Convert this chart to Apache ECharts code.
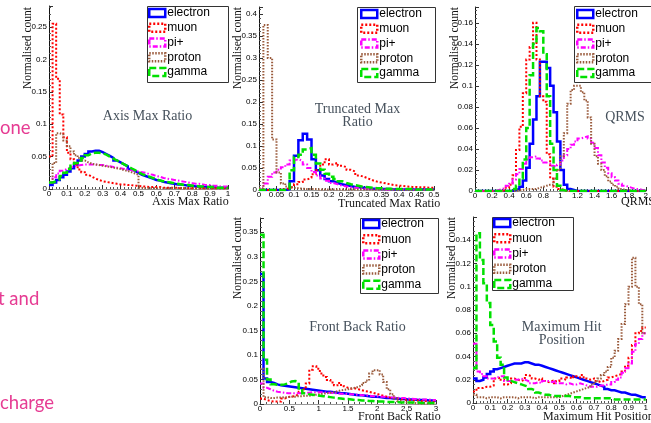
<!DOCTYPE html>
<html>
<head>
<meta charset="utf-8">
<script src="https://cdn.jsdelivr.net/npm/echarts@6/dist/echarts.min.js"></script>
<style>
  html, body { margin: 0; padding: 0; background: #ffffff; }
  #chart { width: 651px; height: 423px; }
</style>
</head>
<body>
<div id="chart"></div>
<script>
// Particle species shown in every panel
const PARTICLES = ['electron', 'muon', 'pi+', 'proton', 'gamma'];

// ---- Axis Max Ratio: 50 bins over [0, 1] ----
const amrElectron = [0.006,0.010,0.014,0.018,0.022,0.027,0.032,0.038,0.044,0.050,
  0.054,0.058,0.059,0.059,0.057,0.054,0.051,0.048,0.044,0.041,
  0.038,0.035,0.031,0.028,0.025,0.022,0.020,0.018,0.016,0.014,
  0.013,0.011,0.010,0.009,0.008,0.007,0.007,0.006,0.005,0.005,
  0.004,0.004,0.003,0.003,0.003,0.003,0.002,0.002,0.002,0.002];
const amrMuon = [0.050,0.255,0.170,0.115,0.080,0.056,0.046,0.038,0.030,0.026,
  0.022,0.019,0.016,0.014,0.012,0.011,0.010,0.009,0.008,0.007,
  0.007,0.006,0.006,0.005,0.005,0.004,0.004,0.003,0.003,0.003,
  0.003,0.002,0.002,0.002,0.002,0.002,0.001,0.001,0.001,0.001,
  0.001,0.001,0.001,0.001,0.001,0.001,0.001,0.001,0.001,0.001];
const amrPion = [0.010,0.018,0.024,0.028,0.031,0.033,0.035,0.036,0.037,0.038,
  0.038,0.038,0.038,0.037,0.037,0.036,0.035,0.034,0.033,0.032,
  0.031,0.030,0.029,0.028,0.027,0.026,0.025,0.023,0.022,0.020,
  0.019,0.017,0.016,0.015,0.014,0.013,0.012,0.011,0.010,0.009,
  0.008,0.008,0.007,0.006,0.006,0.005,0.005,0.004,0.004,0.004];
const amrProton = [0.010,0.040,0.086,0.084,0.075,0.066,0.058,0.052,0.048,0.044,
  0.041,0.039,0.038,0.037,0.036,0.035,0.034,0.033,0.032,0.031,
  0.029,0.028,0.026,0.024,0.022,0.002,0.001,0.001,0.001,0.001,
  0.001,0.001,0.001,0.001,0.001,0.001,0.001,0.001,0.001,0.001,
  0.001,0.001,0.001,0.001,0.001,0.001,0.001,0.001,0.001,0.001];
const amrGamma = [0.010,0.012,0.015,0.020,0.025,0.031,0.036,0.040,0.044,0.048,
  0.052,0.055,0.056,0.056,0.055,0.053,0.050,0.047,0.044,0.041,
  0.038,0.035,0.032,0.029,0.026,0.023,0.021,0.019,0.017,0.015,
  0.013,0.012,0.011,0.010,0.009,0.008,0.007,0.006,0.006,0.005,
  0.005,0.004,0.004,0.003,0.003,0.003,0.002,0.002,0.002,0.002];

// ---- Truncated Max Ratio: 40 bins over [0, 0.5] ----
const tmrElectron = [0,0,0,0,0,0,0.002,0.020,0.078,0.113,
  0.128,0.115,0.070,0.045,0.033,0.025,0.020,0.016,0.013,0.011,
  0.009,0.007,0.006,0.005,0.004,0.003,0.003,0.002,0.002,0.002,
  0.001,0.001,0.001,0.001,0.001,0.001,0.001,0.001,0.001,0.001];
const tmrMuon = [0,0,0,0,0.001,0.002,0.004,0.008,0.013,0.018,
  0.024,0.028,0.036,0.045,0.058,0.070,0.058,0.062,0.055,0.052,
  0.046,0.042,0.033,0.030,0.026,0.022,0.019,0.017,0.015,0.013,
  0.011,0.010,0.009,0.008,0.007,0.007,0.006,0.006,0.005,0.005];
const tmrPion = [0.001,0.015,0.030,0.040,0.046,0.052,0.058,0.067,0.070,0.066,
  0.058,0.050,0.041,0.033,0.026,0.021,0.016,0.013,0.010,0.008,
  0.006,0.005,0.004,0.003,0.003,0.002,0.002,0.002,0.001,0.001,
  0.001,0.001,0.001,0.001,0.001,0.001,0.001,0.001,0.001,0.001];
const tmrProton = [0.004,0.375,0.300,0.115,0.040,0.015,0.008,0.005,0.004,0.003,
  0.002,0.002,0.002,0.001,0.001,0.001,0.001,0.001,0.001,0.001,
  0.001,0.001,0.001,0.001,0.001,0.001,0.001,0.001,0.001,0.001,
  0,0,0,0,0,0,0,0,0,0];
const tmrGamma = [0,0,0,0,0,0,0.003,0.045,0.075,0.080,
  0.092,0.095,0.080,0.060,0.046,0.037,0.030,0.025,0.020,0.016,
  0.013,0.011,0.009,0.007,0.006,0.005,0.004,0.004,0.003,0.003,
  0.002,0.002,0.002,0.002,0.002,0.001,0.001,0.001,0.001,0.001];

// ---- QRMS: 50 bins over [0, 2] ----
const qrmsElectron = [0,0,0,0,0,0,0,0,0,0,
  0,0.001,0.002,0.004,0.010,0.022,0.045,0.068,0.090,0.123,
  0.123,0.117,0.100,0.075,0.047,0.020,0.006,0.002,0.001,0,
  0,0,0,0,0,0,0,0,0,0,
  0,0,0,0,0,0,0,0,0,0];
const qrmsMuon = [0,0,0,0,0,0,0,0,0.001,0.003,
  0.006,0.015,0.039,0.061,0.093,0.125,0.137,0.160,0.125,0.090,
  0.085,0.035,0.012,0.004,0.002,0.001,0,0,0,0,
  0,0,0,0,0,0,0,0,0,0,
  0,0,0,0,0,0,0,0,0,0];
const qrmsPion = [0,0,0,0,0,0,0.001,0.002,0.003,0.005,
  0.007,0.011,0.016,0.021,0.026,0.030,0.032,0.033,0.031,0.029,
  0.027,0.026,0.024,0.023,0.025,0.029,0.034,0.040,0.044,0.047,
  0.050,0.051,0.052,0.050,0.046,0.041,0.034,0.027,0.022,0.017,
  0.013,0.010,0.007,0.005,0.004,0.003,0.002,0.002,0.001,0.001];
const qrmsProton = [0,0,0,0,0,0,0,0,0,0,
  0,0,0.001,0.001,0.002,0.002,0.002,0.002,0.003,0.004,
  0.005,0.006,0.006,0.012,0.020,0.033,0.055,0.083,0.096,0.100,
  0.100,0.094,0.086,0.070,0.045,0.033,0.026,0.020,0.014,0.009,
  0.006,0.004,0.002,0.001,0.001,0,0,0,0,0];
const qrmsGamma = [0,0,0,0,0,0,0,0,0,0,
  0,0.002,0.005,0.012,0.030,0.060,0.110,0.140,0.155,0.152,
  0.130,0.090,0.045,0.020,0.005,0.001,0,0,0,0,
  0,0,0,0,0,0,0,0,0,0,
  0,0,0,0,0,0,0,0,0,0];

// ---- Front Back Ratio: 50 bins over [0, 3] ----
const fbrElectron = [0.265,0.052,0.045,0.043,0.040,0.038,0.037,0.036,0.035,0.034,
  0.033,0.032,0.031,0.030,0.029,0.028,0.027,0.026,0.025,0.025,
  0.024,0.023,0.022,0.022,0.021,0.020,0.019,0.018,0.018,0.017,
  0.016,0.015,0.015,0.014,0.013,0.012,0.012,0.011,0.011,0.010,
  0.010,0.009,0.009,0.009,0.008,0.008,0.008,0.007,0.007,0.007];
const fbrMuon = [0.011,0.008,0.006,0.005,0.005,0.005,0.011,0.014,0.015,0.016,
  0.020,0.025,0.030,0.042,0.070,0.077,0.072,0.062,0.055,0.049,
  0.044,0.038,0.043,0.036,0.033,0.031,0.032,0.030,0.028,0.026,
  0.025,0.023,0.021,0.019,0.017,0.015,0.013,0.012,0.011,0.010,
  0.009,0.008,0.008,0.007,0.007,0.006,0.006,0.006,0.005,0.005];
const fbrPion = [0.042,0.033,0.030,0.027,0.025,0.024,0.023,0.022,0.022,0.022,
  0.022,0.022,0.023,0.023,0.024,0.024,0.024,0.024,0.023,0.023,
  0.022,0.022,0.021,0.021,0.020,0.020,0.019,0.019,0.018,0.018,
  0.017,0.016,0.016,0.015,0.015,0.014,0.014,0.013,0.013,0.012,
  0.012,0.011,0.011,0.010,0.010,0.009,0.009,0.009,0.008,0.008];
const fbrProton = [0.072,0.014,0.012,0.012,0.013,0.013,0.014,0.014,0.015,0.015,
  0.016,0.016,0.017,0.017,0.018,0.019,0.020,0.021,0.022,0.023,
  0.024,0.026,0.028,0.029,0.030,0.032,0.033,0.035,0.038,0.043,
  0.048,0.062,0.069,0.069,0.060,0.045,0.030,0.020,0.011,0.006,
  0.004,0.003,0.002,0.002,0.001,0.001,0.001,0.001,0.001,0.001];
const fbrGamma = [0.345,0.090,0.050,0.040,0.039,0.039,0.040,0.042,0.046,0.047,
  0.045,0.028,0.022,0.020,0.019,0.018,0.017,0.016,0.015,0.014,
  0.013,0.012,0.011,0.010,0.010,0.009,0.008,0.008,0.007,0.007,
  0.006,0.006,0.005,0.005,0.005,0.004,0.004,0.004,0.004,0.003,
  0.003,0.003,0.003,0.003,0.003,0.002,0.002,0.002,0.002,0.002];

// ---- Maximum Hit Position: 50 bins over [0, 1] ----
const mhpElectron = [0.021,0.019,0.020,0.022,0.025,0.027,0.029,0.030,0.031,0.032,
  0.033,0.034,0.034,0.034,0.035,0.035,0.034,0.033,0.033,0.032,
  0.031,0.030,0.029,0.028,0.027,0.026,0.025,0.024,0.023,0.022,
  0.021,0.020,0.019,0.018,0.017,0.016,0.015,0.014,0.012,0.011,
  0.011,0.010,0.009,0.009,0.008,0.007,0.007,0.006,0.005,0.005];
const mhpMuon = [0.010,0.013,0.013,0.014,0.014,0.015,0.021,0.022,0.020,0.016,
  0.017,0.021,0.020,0.019,0.020,0.024,0.023,0.021,0.020,0.021,
  0.019,0.018,0.019,0.017,0.019,0.021,0.020,0.022,0.021,0.023,
  0.022,0.024,0.021,0.020,0.021,0.019,0.018,0.019,0.020,0.022,
  0.023,0.024,0.025,0.027,0.032,0.039,0.050,0.060,0.062,0.065];
const mhpPion = [0.051,0.027,0.025,0.023,0.021,0.021,0.022,0.023,0.023,0.019,
  0.019,0.018,0.020,0.021,0.020,0.019,0.017,0.017,0.018,0.017,
  0.019,0.019,0.018,0.019,0.017,0.017,0.016,0.017,0.016,0.016,
  0.017,0.016,0.015,0.014,0.014,0.014,0.015,0.015,0.016,0.016,
  0.018,0.020,0.022,0.026,0.030,0.034,0.044,0.051,0.055,0.060];
const mhpProton = [0.007,0.005,0.005,0.004,0.005,0.005,0.005,0.004,0.005,0.005,
  0.005,0.005,0.004,0.005,0.005,0.005,0.005,0.004,0.005,0.005,
  0.005,0.005,0.005,0.005,0.005,0.006,0.007,0.008,0.009,0.010,
  0.011,0.012,0.013,0.014,0.016,0.018,0.021,0.024,0.027,0.031,
  0.039,0.045,0.055,0.068,0.085,0.100,0.125,0.100,0.085,0.060];
const mhpGamma = [0.030,0.146,0.123,0.103,0.086,0.067,0.053,0.039,0.033,0.022,
  0.019,0.018,0.017,0.016,0.015,0.014,0.012,0.011,0.009,0.008,
  0.007,0.007,0.006,0.006,0.006,0.006,0.006,0.006,0.005,0.005,
  0.005,0.004,0.004,0.004,0.004,0.004,0.004,0.004,0.004,0.004,
  0.003,0.003,0.003,0.003,0.003,0.003,0.003,0.003,0.003,0.003];

// Line look of each species (ROOT-like histogram outlines)
const STYLE = {
  'electron': { color: '#0000ff', width: 2.5, dash: 'solid' },
  'muon':     { color: '#ff0000', width: 2,   dash: [2, 2] },
  'pi+':      { color: '#ff00ff', width: 2,   dash: [5, 2, 1.5, 2] },
  'proton':   { color: '#9a5b3c', width: 2,   dash: [1.5, 1.5] },
  'gamma':    { color: '#00e000', width: 2.5, dash: [7, 3] }
};

// Panel layout and axis ranges
const PANELS = [
  { box: { left: 49,  top: 6,   width: 179, height: 183 }, x: [0, 1],   xStep: 0.1,  binW: 0.02,   y: 0.2824, yStep: 0.05,
    hist: [amrElectron, amrMuon, amrPion, amrProton, amrGamma],
    title: 'Axis Max Ratio', titlePos: [147.5, 116], xName: 'Axis Max Ratio', xNamePos: [152, 202], yNamePos: [28, 7],
    legendBox: [147, 6, 81, 76], legendPos: [148, 6], legendGap: 0.75 },
  { box: { left: 259, top: 7,   width: 175, height: 183 }, x: [0, 0.5], xStep: 0.05, binW: 0.0125, y: 0.416,  yStep: 0.05,
    hist: [tmrElectron, tmrMuon, tmrPion, tmrProton, tmrGamma],
    title: 'Truncated Max\nRatio', titlePos: [357.5, 116], xName: 'Truncated Max Ratio', xNamePos: [338, 204], yNamePos: [238, 7],
    legendBox: [357, 7, 78, 75], legendPos: [360, 7], legendGap: 0.75 },
  { box: { left: 475, top: 7,   width: 179, height: 184 }, x: [0, 2],   xStep: 0.2,  binW: 0.04,   y: 0.175,  yStep: 0.02,
    hist: [qrmsElectron, qrmsMuon, qrmsPion, qrmsProton, qrmsGamma],
    title: 'QRMS', titlePos: [625, 117], xName: 'QRMS', xNamePos: [621, 202], yNamePos: [455, 7],
    legendBox: [574, 6, 80, 76], legendPos: [576, 7], legendGap: 0.75 },
  { box: { left: 260, top: 218, width: 176, height: 186 }, x: [0, 3],   xStep: 0.5,  binW: 0.06,   y: 0.379,  yStep: 0.05,
    hist: [fbrElectron, fbrMuon, fbrPion, fbrProton, fbrGamma],
    title: 'Front Back Ratio', titlePos: [357.5, 327], xName: 'Front Back Ratio', xNamePos: [358, 417], yNamePos: [238, 217],
    legendBox: [360, 218, 78, 75], legendPos: [362, 217], legendGap: 1.2 },
  { box: { left: 473, top: 217, width: 187, height: 186 }, x: [0, 1],   xStep: 0.1,  binW: 0.02,   y: 0.16,   yStep: 0.02,
    hist: [mhpElectron, mhpMuon, mhpPion, mhpProton, mhpGamma],
    title: 'Maximum Hit\nPosition', titlePos: [561.7, 334], xName: 'Maximum Hit Position', xNamePos: [543, 417], yNamePos: [452, 217],
    legendBox: [492, 217, 81, 73], legendPos: [493, 216], legendGap: 1.25 }
];

// Side-bar text of the slide
const SIDE_TEXT = [
  { text: 'one',    x: 0,  y: 128 },
  { text: 't and',  x: -2, y: 299 },
  { text: 'charge', x: 0,  y: 403 }
];

// Turn bin contents into a histogram outline (each bin as a flat top)
function outline(values, x0, w) {
  const pts = [];
  values.forEach((v, i) => {
    const a = +(x0 + i * w).toFixed(6);
    const b = +(x0 + (i + 1) * w).toFixed(6);
    pts.push([a, v], [b, v]);
  });
  return pts;
}

const TICK_FONT = { fontSize: 8, color: '#000', fontFamily: 'Liberation Sans, Arial, sans-serif' };

const grid = PANELS.map(p => Object.assign({}, p.box));

const xAxis = [];
const yAxis = [];
PANELS.forEach((p, k) => {
  xAxis.push({
    type: 'value', gridIndex: k, min: p.x[0], max: p.x[1], interval: p.xStep,
    axisLine: { show: true, onZero: false, lineStyle: { color: '#111', width: 1 } },
    axisTick: { show: true, inside: true, length: 4, lineStyle: { color: '#333' } },
    minorTick: { show: true, splitNumber: 5, length: 2, lineStyle: { color: '#555' } },
    axisLabel: Object.assign({ margin: 1, showMaxLabel: true, hideOverlap: false }, TICK_FONT),
    splitLine: { show: false }
  });
  yAxis.push({
    type: 'value', gridIndex: k, min: 0, max: p.y, interval: p.yStep,
    axisLine: { show: true, onZero: false, lineStyle: { color: '#111', width: 1 } },
    axisTick: { show: true, inside: true, length: 4, lineStyle: { color: '#333' } },
    minorTick: { show: true, splitNumber: 5, length: 2, lineStyle: { color: '#555' } },
    axisLabel: Object.assign({ margin: 2, showMaxLabel: false }, TICK_FONT),
    splitLine: { show: false }
  });
});
// Upper frame edge of each pad
PANELS.forEach((p, k) => {
  xAxis.push({
    type: 'value', gridIndex: k, position: 'top', min: p.x[0], max: p.x[1],
    axisLine: { show: true, lineStyle: { color: '#999', width: 1 } },
    axisTick: { show: false }, axisLabel: { show: false }, splitLine: { show: false }
  });
});

const series = [];
PANELS.forEach((p, k) => {
  PARTICLES.forEach((name, j) => {
    const s = STYLE[name];
    series.push({
      name: name, type: 'line', xAxisIndex: k, yAxisIndex: k,
      data: outline(p.hist[j], p.x[0], p.binW),
      showSymbol: false, symbol: 'none', clip: true, silent: true,
      lineStyle: { color: s.color, width: s.width, type: s.dash, join: 'miter' },
      itemStyle: { color: s.color },
      animation: false
    });
  });
});

const legend = PANELS.map(p => ({
  orient: 'vertical', left: p.legendPos[0], top: p.legendPos[1], padding: 0,
  itemWidth: 16, itemHeight: 8, itemGap: p.legendGap, icon: 'rect', selectedMode: false, z: 10,
  textStyle: { fontSize: 12, lineHeight: 14, color: '#000', fontFamily: 'Liberation Sans, Arial, sans-serif', padding: [0, 0, 0, -3] },
  data: PARTICLES.map(name => ({
    name: name,
    itemStyle: { color: 'rgba(0,0,0,0)', borderColor: STYLE[name].color, borderWidth: 2.5, borderType: STYLE[name].dash }
  }))
}));

const graphic = [];
PANELS.forEach(p => {
  // legend frame
  graphic.push({
    type: 'rect', z: 3, silent: true,
    shape: { x: p.legendBox[0] + 0.5, y: p.legendBox[1] + 0.5, width: p.legendBox[2], height: p.legendBox[3] },
    style: { fill: '#ffffff', stroke: '#333', lineWidth: 1 }
  });
  // panel caption
  graphic.push({
    type: 'text', z: 5, silent: true, x: p.titlePos[0], y: p.titlePos[1],
    style: { text: p.title, fill: '#46515c', font: '14px "Liberation Serif", "Times New Roman", serif',
             lineHeight: 13, align: 'center', verticalAlign: 'middle' }
  });
  // x-axis title
  graphic.push({
    type: 'text', z: 5, silent: true, x: p.xNamePos[0], y: p.xNamePos[1],
    style: { text: p.xName, fill: '#111', font: '12px "Liberation Serif", "Times New Roman", serif',
             align: 'left', verticalAlign: 'middle' }
  });
  // y-axis title
  graphic.push({
    type: 'text', z: 5, silent: true, x: p.yNamePos[0], y: p.yNamePos[1], rotation: Math.PI / 2,
    style: { text: 'Normalised count', fill: '#111', font: '11.5px "Liberation Serif", "Times New Roman", serif',
             align: 'right', verticalAlign: 'middle' }
  });
});
SIDE_TEXT.forEach(t => {
  graphic.push({
    type: 'text', silent: true, x: t.x, y: t.y,
    style: { text: t.text, fill: '#e63c93', font: '18.5px Lato, "Open Sans", sans-serif', align: 'left', verticalAlign: 'middle' }
  });
});

const chart = echarts.init(document.getElementById('chart'), null, { renderer: 'canvas' });
chart.setOption({
  backgroundColor: '#ffffff',
  animation: false,
  grid: grid,
  xAxis: xAxis,
  yAxis: yAxis,
  legend: legend,
  graphic: graphic,
  series: series
});
</script>
</body>
</html>
